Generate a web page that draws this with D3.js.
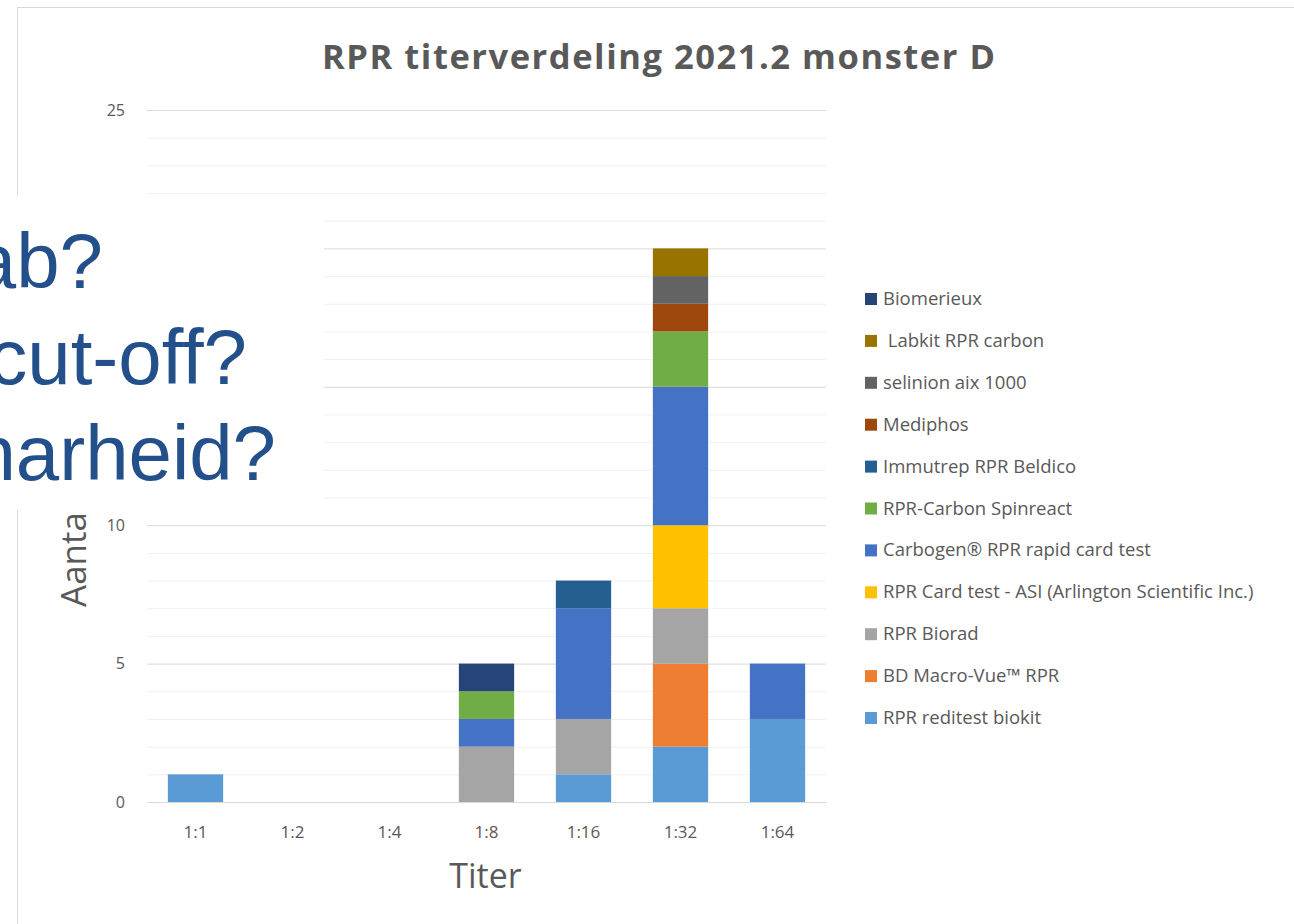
<!DOCTYPE html>
<html>
<head>
<meta charset="utf-8">
<script src="https://cdn.jsdelivr.net/npm/d3@7"></script>
<style>
  body { margin: 0; background: #fff; }
  svg { display: block; }
</style>
</head>
<body>
<svg id="chart"></svg>
<script>
// titer categories on the x axis
const titers = ['1:1', '1:2', '1:4', '1:8', '1:16', '1:32', '1:64'];

// tests, in stacking order (bottom first)
const tests = [
    'RPR reditest biokit',
    'BD Macro-Vue™ RPR',
    'RPR Biorad',
    'RPR Card test - ASI (Arlington Scientific Inc.)',
    'Carbogen® RPR rapid card test',
    'RPR-Carbon Spinreact',
    'Immutrep RPR Beldico',
    'Mediphos',
    'selinion aix 1000',
    ' Labkit RPR carbon',
    'Biomerieux'
];

const testColors = ['#5b9bd5', '#ed7d31', '#a5a5a5', '#ffc000', '#4472c4', '#70ad47',
    '#255e91', '#9e480e', '#636363', '#997300', '#264478'];

// counts per test, one value per titer
const reditest   = [1, 0, 0, 0, 1, 2, 3];
const macroVue   = [0, 0, 0, 0, 0, 3, 0];
const biorad     = [0, 0, 0, 2, 2, 2, 0];
const asi        = [0, 0, 0, 0, 0, 3, 0];
const carbogen   = [0, 0, 0, 1, 4, 5, 2];
const spinreact  = [0, 0, 0, 1, 0, 2, 0];
const immutrep   = [0, 0, 0, 0, 1, 0, 0];
const mediphos   = [0, 0, 0, 0, 0, 1, 0];
const selinion   = [0, 0, 0, 0, 0, 1, 0];
const labkit     = [0, 0, 0, 0, 0, 1, 0];
const biomerieux = [0, 0, 0, 1, 0, 0, 0];

const series = [reditest, macroVue, biorad, asi, carbogen, spinreact,
    immutrep, mediphos, selinion, labkit, biomerieux];

// 15 and 20 sit under the slide overlay, so only these labels show
const yTicks = [0, 5, 10, 25];

const W = 1294, H = 924;
const margin = {top: 110, left: 147, right: 468, bottom: 122};
const width = W - margin.left - margin.right;
const height = H - margin.top - margin.bottom;
const grey = '#595959';

const svg = d3.select('#chart').attr('width', W).attr('height', H);

// chart frame
svg.append('rect')
    .attr('x', 17.5).attr('y', 7.5)
    .attr('width', W).attr('height', H)
    .attr('fill', '#fff').attr('stroke', '#d9d9d9');

const table = titers.map((t, i) => {
    const row = {titer: t};
    tests.forEach((name, k) => row[name] = series[k][i]);
    return row;
});
const stacked = d3.stack().keys(tests)(table);

const x = d3.scaleBand().domain(titers).range([0, width]).paddingInner(0.43).paddingOuter(0.215);
const y = d3.scaleLinear().domain([0, 25]).range([height, 0]);
const color = d3.scaleOrdinal().domain(tests).range(testColors);

const g = svg.append('g').attr('transform', `translate(${margin.left},${margin.top})`);

// gridlines: every unit, darker at multiples of 5
g.append('g').selectAll('line')
    .data(d3.range(1, 26))
    .join('line')
    .attr('x1', 0).attr('x2', width)
    .attr('y1', d => y(d) + 0.5).attr('y2', d => y(d) + 0.5)
    .attr('stroke', d => d % 5 === 0 ? '#d9d9d9' : '#f0f0f0');

// y axis labels
const yAxis = d3.axisLeft(y).tickValues(yTicks).tickSize(0).tickPadding(22);
g.append('g').call(yAxis)
    .call(a => a.select('.domain').remove())
    .selectAll('text')
    .attr('fill', grey).attr('font-size', 16).attr('font-family', 'Open Sans');

// bars
g.append('g').selectAll('g')
    .data(stacked)
    .join('g')
    .attr('fill', d => color(d.key))
    .selectAll('rect')
    .data(d => d)
    .join('rect')
    .attr('x', d => x(d.data.titer))
    .attr('width', x.bandwidth())
    .attr('y', d => y(d[1]))
    .attr('height', d => y(d[0]) - y(d[1]));

// x axis
const xAxis = d3.axisBottom(x).tickSize(0).tickPadding(24);
g.append('g').attr('transform', `translate(0,${height})`).call(xAxis)
    .call(a => a.select('.domain').attr('stroke', '#d9d9d9'))
    .selectAll('text')
    .attr('fill', grey).attr('font-size', 17).attr('font-family', 'Open Sans');

// axis titles
svg.append('text')
    .attr('x', margin.left + width / 2 - 1).attr('y', 888)
    .attr('text-anchor', 'middle')
    .attr('fill', grey).attr('font-size', 34).attr('font-family', 'Open Sans')
    .text('Titer');

svg.append('text')
    .attr('transform', 'translate(86,607) rotate(-90)')
    .attr('fill', grey).attr('font-size', 35).attr('font-family', 'Open Sans')
    .text('Aantal');

// title
svg.append('text')
    .attr('x', 322).attr('y', 69)
    .attr('textLength', 673).attr('lengthAdjust', 'spacing')
    .attr('fill', grey).attr('font-size', 34.5).attr('font-weight', 'bold')
    .attr('font-family', 'Open Sans')
    .text('RPR titerverdeling 2021.2 monster D');

// legend, top entry is the last series
const legend = svg.append('g').attr('transform', 'translate(865,299)');
const items = legend.selectAll('g')
    .data(tests.slice().reverse())
    .join('g')
    .attr('transform', (d, i) => `translate(0,${i * 41.9})`);
items.append('rect')
    .attr('x', 0).attr('y', -6).attr('width', 12).attr('height', 12)
    .attr('fill', d => color(d));
items.append('text')
    .attr('x', 18).attr('y', 6)
    .attr('fill', grey).attr('font-size', 18.5).attr('font-family', 'Open Sans')
    .style('white-space', 'pre')
    .text(d => d);

// slide overlay covering the upper y axis
svg.append('rect')
    .attr('x', 0).attr('y', 196)
    .attr('width', 324).attr('height', 314)
    .attr('fill', '#fff');

const overlay = ['ab?', 'cut-off?', 'narheid?'];
const overlayRight = [103, 247, 276];
svg.append('g').selectAll('text')
    .data(overlay)
    .join('text')
    .attr('x', (d, i) => overlayRight[i])
    .attr('y', (d, i) => 288 + i * 96)
    .attr('text-anchor', 'end')
    .attr('fill', '#23508a').attr('font-size', 78).attr('font-family', 'Liberation Sans')
    .text(d => d);
</script>
</body>
</html>
